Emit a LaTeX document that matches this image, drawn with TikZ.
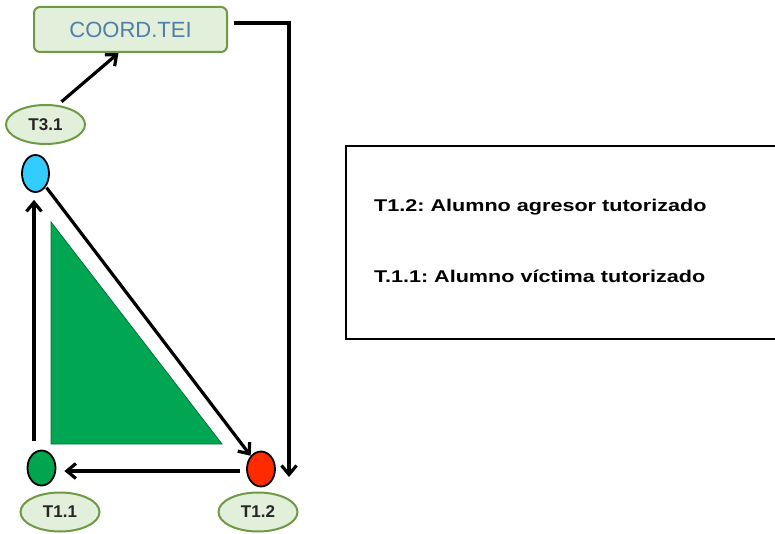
\documentclass[tikz,border=0pt]{standalone}
\usepackage{fontspec}
\setmainfont{Liberation Sans}
\usetikzlibrary{arrows.meta,shapes.geometric,calc}
\definecolor{lgfill}{HTML}{E2EFDA}
\definecolor{lgdraw}{HTML}{6E9A46}
\definecolor{teitext}{HTML}{4F7FA8}
\definecolor{trigreen}{HTML}{00A651}
\definecolor{dotblue}{HTML}{33CCFF}
\definecolor{dotred}{HTML}{FF2A00}
\definecolor{dotgreen}{HTML}{00A64F}
\tikzset{
  tag/.style={ellipse,draw=lgdraw,fill=lgfill,line width=2pt,minimum width=79pt,minimum height=39pt,inner sep=0pt,font=\bfseries\fontsize{17}{19}\selectfont,text=black!85},
  dot/.style={ellipse,draw=black,line width=1.8pt,minimum width=28pt,minimum height=35pt,inner sep=0pt},
  conn/.style={line width=3.2pt,-{Straight Barb[length=9pt,width=15pt,line width=3.2pt]}},
  infotext/.style={anchor=base west,inner sep=0pt,font=\bfseries\fontsize{17}{19}\selectfont}
}
\frenchspacing
\begin{document}
\begin{tikzpicture}[x=1pt,y=-1pt]
\useasboundingbox (0,0) rectangle (775,534);
% coordination box
\node (tei) [draw=lgdraw,fill=lgfill,line width=2pt,rounded corners=6pt,minimum width=193pt,minimum height=45pt,inner sep=0pt,text=teitext,font=\fontsize{22}{24}\selectfont] at (130.5,29.5) {COORD.TEI};
% triangle
\fill[trigreen,draw=trigreen!70!black,line width=0.8pt] (51,222) -- (51,444) -- (222,444) -- cycle;
% dots
\node (blue) [dot,fill=dotblue,minimum width=27pt,minimum height=37pt] at (35.5,173.5) {};
\node (green) [dot,fill=dotgreen] at (41.5,468) {};
\node (red) [dot,fill=dotred] at (261,469) {};
% tags
\node (t31) [tag] at (45.5,124.5) {T3.1};
\node (t11) [tag] at (60,512) {T1.1};
\node (t12) [tag] at (258,512) {T1.2};
% connectors
\coordinate (teiout) at ([xshift=6pt,yshift=6.5pt]tei.east);
\coordinate (corner) at (289,23);
\coordinate (downend) at (289,477);
\draw[conn,line cap=butt] (teiout) -- (corner) -- (downend);
\draw[conn,shorten <=5pt] (t31.58) -- ([xshift=-12pt]tei.south);
\draw[conn,shorten <=1pt] (blue.-52) -- (red.128);
\draw[conn,shorten <=6pt,shorten >=8pt] ([yshift=-2pt]red.west) -- ([yshift=-3pt]green.east);
\draw[conn,shorten <=9pt,shorten >=7pt] ([xshift=-7.5pt]green.north) -- ([xshift=-1.5pt]blue.south);
% info box
\node (info) [draw=black,line width=2.2pt,minimum width=430pt,minimum height=193pt,inner sep=0pt] at (561,242.5) {};
\node (l1) [infotext] at (374,212) {\scalebox{1.27}[1]{T1.2: Alumno agresor tutorizado}};
\node (l2) [infotext] at (374,282) {\scalebox{1.27}[1]{T.1.1: Alumno víctima tutorizado}};
\end{tikzpicture}
\end{document}
